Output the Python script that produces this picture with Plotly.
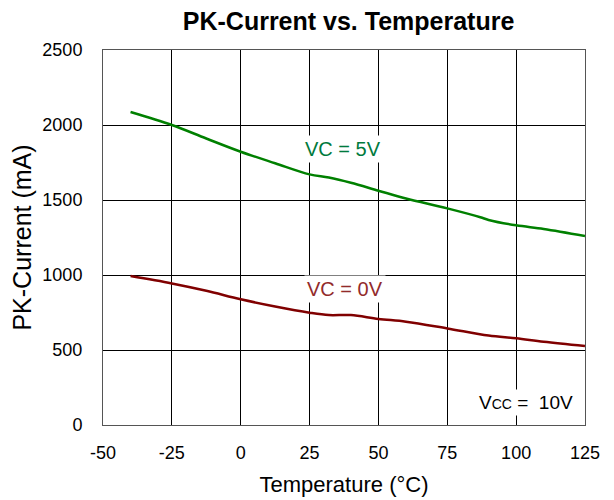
import plotly.graph_objects as go

temp_5v = [-40, -25, -12.5, 0, 12.5, 25, 32, 40, 50, 60, 75, 87, 90, 100, 110, 125]
cur_5v = [2087, 2000, 1910, 1822, 1745, 1671, 1650, 1615, 1562, 1510, 1444, 1385, 1367, 1331, 1307, 1260]

temp_0v = [-40, -25, -12.5, 0, 12.5, 25, 32, 40, 50, 60, 75, 90, 100, 110, 125]
cur_0v = [993, 944, 895, 838, 790, 749, 733, 733, 707, 689, 644, 596, 578, 555, 527]

x_ticks = [-50, -25, 0, 25, 50, 75, 100, 125]
y_ticks = [0, 500, 1000, 1500, 2000, 2500]

font = "Liberation Sans, Arial, sans-serif"

fig = go.Figure()
fig.add_trace(go.Scatter(x=temp_5v, y=cur_5v, mode="lines",
                         line=dict(color="#008000", width=2.5, shape="spline"), showlegend=False))
fig.add_trace(go.Scatter(x=temp_0v, y=cur_0v, mode="lines",
                         line=dict(color="#800000", width=2.5, shape="spline"), showlegend=False))

fig.add_annotation(x=37.1, y=1840, text="VC = 5V", showarrow=False,
                   font=dict(family=font, size=20, color="#007a3d"), bgcolor="white", borderpad=2)
fig.add_annotation(x=38.0, y=907, text="VC = 0V", showarrow=False,
                   font=dict(family=font, size=20, color="#922b2b"), bgcolor="white", borderpad=2)
fig.add_annotation(x=103.4, y=150,
                   text="V<span style='font-size:14px'>CC</span> =  10V", showarrow=False,
                   font=dict(family=font, size=19, color="black"), bgcolor="white", borderpad=2)

fig.update_layout(
    width=606, height=492,
    margin=dict(l=95, r=29, t=42, b=75),
    paper_bgcolor="white", plot_bgcolor="white",
    title=dict(text="<b>PK-Current vs. Temperature</b>", x=0.562, xanchor="center",
               y=0.99, yanchor="top",
               font=dict(family=font, size=25, color="black")),
    font=dict(family=font, color="black"),
)
fig.update_xaxes(range=[-50, 125], tickvals=x_ticks, ticktext=[str(v) for v in x_ticks],
                 showgrid=True, gridcolor="#000000", gridwidth=1,
                 showline=True, linecolor="#555555", linewidth=1, mirror=True,
                 zeroline=False, ticks="", tickfont=dict(size=18), ticklabelstandoff=11,
                 automargin=False,
                 title=dict(text="Temperature (°C)", font=dict(size=22), standoff=15))
fig.update_yaxes(range=[0, 2500], tickvals=y_ticks, ticktext=[str(v) for v in y_ticks],
                 showgrid=True, gridcolor="#000000", gridwidth=1,
                 showline=True, linecolor="#555555", linewidth=1, mirror=True,
                 zeroline=False, ticks="", tickfont=dict(size=18), ticklabelstandoff=16,
                 automargin=False,
                 title=dict(text="PK-Current (mA)", font=dict(size=25), standoff=8))

fig.write_html("out.html")
